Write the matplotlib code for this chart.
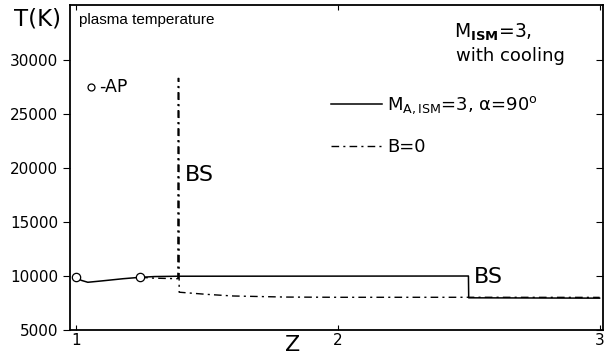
import matplotlib
matplotlib.use("Agg")
import matplotlib.pyplot as plt

plt.rcParams["mathtext.default"] = "regular"

# solid: M_A,ISM=3, alpha=90
mag_z = [1.0, 1.02, 1.045, 1.1, 1.18, 1.245, 1.3, 1.39, 2.0, 2.499, 2.5, 3.0]
mag_T = [9900, 9600, 9420, 9550, 9750, 9880, 9950, 9980, 9990, 10000, 7980, 7950]

# dash-dot: B=0
hd_z = [1.245, 1.3, 1.389, 1.39, 1.393, 1.394, 1.5, 1.6, 1.8, 2.0, 2.5, 3.0]
hd_T = [9880, 9800, 9750, 28300, 28300, 8500, 8300, 8150, 8050, 8030, 8030, 8020]

# open circles (AP positions)
ap_z = [1.0, 1.245]
ap_T = [9900, 9880]

fig = plt.figure(figsize=(6.14, 3.56), dpi=100)
ax = fig.add_axes([70 / 614, 1 - 330 / 356, 533 / 614, 325 / 356])

l1, = ax.plot(mag_z, mag_T, color="black", lw=1.1,
              label=r"M$_{A,ISM}$=3, $\alpha$=90$^{o}$")
l2, = ax.plot(hd_z, hd_T, color="black", lw=1.0, dashes=(5.5, 3, 1.5, 3),
              label="B=0")
ax.plot(ap_z, ap_T, "o", mfc="white", mec="black", ms=6, mew=0.9, zorder=5)

ax.set_xlim(0.977, 3.013)
ax.set_ylim(5000, 35100)
ax.set_xticks([1, 2, 3])
ax.set_yticks([5000, 10000, 15000, 20000, 25000, 30000])
ax.tick_params(axis="x", direction="in", top=True, labelsize=11, pad=2)
ax.tick_params(axis="y", direction="out", labelsize=11, length=5)
ax.tick_params(axis="y", which="both", right=True)
for s in ax.spines.values():
    s.set_linewidth(1.3)

# right ticks point inward
for t in ax.yaxis.get_major_ticks():
    t.tick2line.set_marker(matplotlib.lines.TICKLEFT)

ax.legend(handles=[l1, l2], loc="center left", bbox_to_anchor=(0.49, 0.63),
          frameon=False, fontsize=13, handlelength=2.8, handletextpad=0.3,
          labelspacing=1.2, borderpad=0, borderaxespad=0)

ax.text(1.012, 33700, "plasma temperature", fontsize=11,
        family="Liberation Sans", va="center")
ax.plot([1.057], [27500], "o", mfc="white", mec="black", ms=5, mew=0.9)
ax.text(1.088, 27500, "-AP", fontsize=12.5, va="center")
ax.text(1.415, 19400, "BS", fontsize=16, va="center")
ax.text(2.52, 8950, "BS", fontsize=16, va="bottom")
ax.text(2.445, 32600, r"M$_{\mathbf{ISM}}$=3,", fontsize=13.5, va="center")
ax.text(2.452, 30400, "with cooling", fontsize=13, va="center")

fig.text(37 / 614, 1 - 18.5 / 356, "T(K)", fontsize=16.5, ha="center", va="center")
fig.text(293 / 614, 1 - 345 / 356, "Z", fontsize=16, ha="center", va="center")

fig.savefig("out.png", dpi=100)
